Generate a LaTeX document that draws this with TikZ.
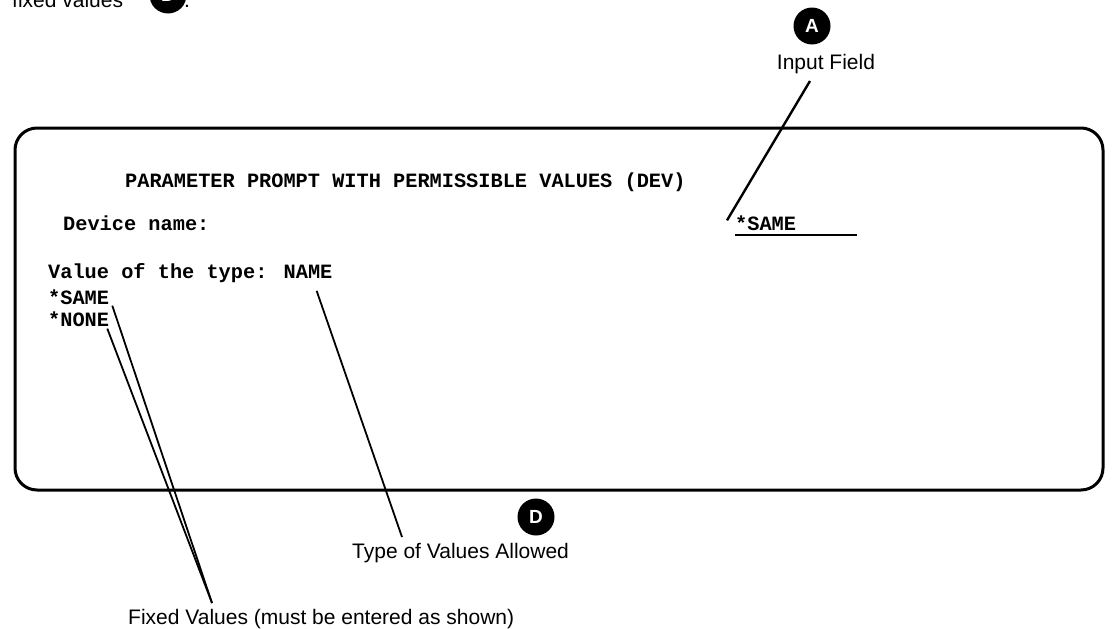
\documentclass[tikz,border=0pt]{standalone}
\usepackage{fontspec}
\setmainfont{Liberation Sans}
\newfontfamily\termfont{Liberation Mono}
\usepackage{tikz}

\begin{document}
\begin{tikzpicture}[x=1pt, y=-1pt,
      term/.style={font=\termfont\bfseries\fontsize{20.3}{24}\selectfont, inner sep=0pt, anchor=west},
      lbl/.style={font=\fontsize{21}{25}\selectfont, inner sep=0pt},
      badge/.style={circle, fill=black, text=white, font=\bfseries\fontsize{19}{23}\selectfont, minimum size=37pt, inner sep=0pt},
      lead/.style={line width=1.8pt},
      screen/.style={line width=3pt, rounded corners=22pt},
    ]
    \useasboundingbox (0,0) rectangle (1112,629);
    \node[lbl, anchor=base west] (capfix) at (12,8) {fixed values};
    \node[badge] (capD) at (168,-5) {D};
    \node[lbl, anchor=base west] (capdot) at (184,8) {.};
    \draw[screen] (15,128) rectangle (1103,490);
    \node[term] (title) at (125,182) {PARAMETER PROMPT WITH PERMISSIBLE VALUES (DEV)};
    \node[term] (devname) at (63,223) {Device name:};
    \node[term] (infield) at (735,223) {*SAME};
    \draw[line width=2pt] ([yshift=-4pt]infield.south west) -- ++(122,0);
    \node[term] (valtype) at (48,273) {Value of the type: NAME};
    \node[term] (same) at (48,297) {*SAME};
    \node[term] (none) at (48,319) {*NONE};
    \node[badge] (badgeA) at (812,26) {A};
    \node[lbl] (inlbl) at (826,64) {Input Field};
    \node[badge] (badgeD) at (536,517) {D};
    \node[lbl, anchor=west] (typelbl) at (352,553) {Type of Values Allowed};
    \node[lbl, anchor=west] (fixlbl) at (128,619) {Fixed Values (must be entered as shown)};
    \draw[lead, line width=2.4pt] ([xshift=-16pt,yshift=-7pt]inlbl.south) -- ([xshift=-8pt,yshift=-5pt]infield.north west);
    \draw[lead] ([xshift=-16pt,yshift=-8pt]valtype.south east) -- ([xshift=50pt,yshift=6pt]typelbl.north west);
    \draw[lead] ([xshift=3pt,yshift=-1pt]same.south east) -- ([xshift=84pt,yshift=6pt]fixlbl.north west);
    \draw[lead] ([xshift=-2pt,yshift=-2pt]none.south east) -- ([xshift=84pt,yshift=6pt]fixlbl.north west);
  \end{tikzpicture}
\end{document}
